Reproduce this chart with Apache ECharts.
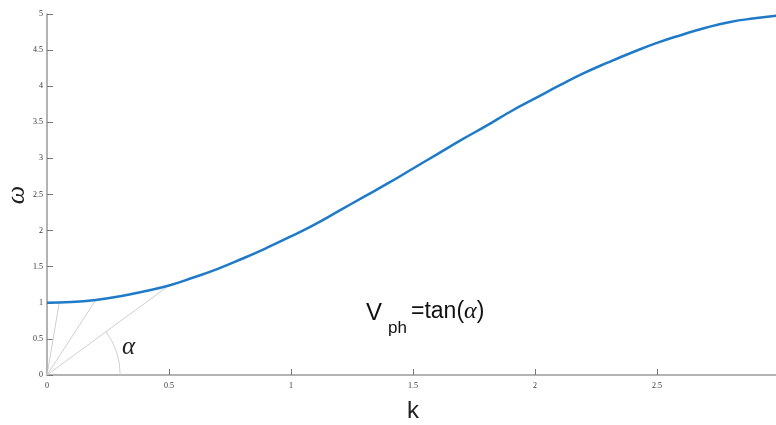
<!DOCTYPE html>
<html>
<head>
<meta charset="utf-8">
<script src="https://cdn.jsdelivr.net/npm/echarts@6/dist/echarts.min.js"></script>
<style>
  html, body { margin: 0; padding: 0; background: #fff; }
  #chart { width: 776px; height: 425px; }
</style>
</head>
<body>
<div id="chart"></div>
<script>
// Dispersion curve ω(k)
const kValues = [0, 0.1, 0.2, 0.3, 0.4, 0.5, 0.6, 0.7, 0.8, 0.9, 1.0, 1.1, 1.2, 1.3, 1.4, 1.5,
                 1.6, 1.7, 1.8, 1.9, 2.0, 2.1, 2.2, 2.3, 2.4, 2.5, 2.6, 2.7, 2.8, 2.9, 3.0];
const omegaValues = [1.00, 1.01, 1.04, 1.09, 1.16, 1.24, 1.35, 1.47, 1.61, 1.76, 1.92, 2.09, 2.28,
                     2.47, 2.66, 2.86, 3.06, 3.26, 3.45, 3.65, 3.83, 4.01, 4.18, 4.33, 4.47, 4.60,
                     4.71, 4.81, 4.89, 4.94, 4.98];
// Chord end points on the curve (from the origin)
const chordEnds = [[0.05, 1.0], [0.2, 1.04], [0.5, 1.24]];
// Angle arc radius (in k units) for the last chord
const arcRadiusK = 0.3;

const chart = echarts.init(document.getElementById('chart'));
const tickFont = { fontFamily: 'Liberation Serif', fontSize: 8, color: '#333' };
const axisGray = '#9a9a9a';
const textColor = '#111';

const chordSeries = chordEnds.map(p => ({
  type: 'line',
  data: [[0, 0], p],
  symbol: 'none',
  silent: true,
  lineStyle: { color: '#cfcfcf', width: 1 },
  z: 1
}));

chart.setOption({
  animation: false,
  grid: { left: 47, top: 14, width: 732, height: 361, outerBoundsMode: 'none', containLabel: false },
  xAxis: {
    type: 'value', min: 0, max: 3, interval: 0.5,
    name: 'k', nameLocation: 'middle', nameGap: 24,
    nameTextStyle: { fontFamily: 'Liberation Sans', fontSize: 24, color: '#222' },
    axisLine: { lineStyle: { color: axisGray, width: 1.5 } },
    axisTick: { inside: true, length: 6, lineStyle: { color: '#777' } },
    axisLabel: Object.assign({ margin: 7, showMaxLabel: false }, tickFont),
    splitLine: { show: false }
  },
  yAxis: {
    type: 'value', min: 0, max: 5, interval: 0.5,
    axisLine: { show: true, lineStyle: { color: axisGray, width: 1.5 } },
    axisTick: { show: true, inside: true, length: 6, lineStyle: { color: '#777' } },
    axisLabel: Object.assign({ margin: 4 }, tickFont),
    splitLine: { show: false }
  },
  series: [
    ...chordSeries,
    {
      type: 'custom',
      silent: true,
      data: [[0, 0]],
      z: 1,
      renderItem: function (params, api) {
        const c = api.coord([0, 0]);
        const e = api.coord([arcRadiusK, 0]);
        const t = api.coord(chordEnds[2]);
        const ang = Math.atan2(c[1] - t[1], t[0] - c[0]);
        return {
          type: 'arc',
          shape: { cx: c[0], cy: c[1], r: e[0] - c[0], startAngle: -ang, endAngle: 0 },
          style: { fill: null, stroke: '#cfcfcf', lineWidth: 1 }
        };
      }
    },
    {
      type: 'line',
      data: kValues.map((k, i) => [k, omegaValues[i]]),
      smooth: true,
      symbol: 'none',
      lineStyle: { color: '#1f7bc8', width: 2.5 },
      z: 3
    }
  ],
  graphic: [
    {
      // y-axis title
      type: 'text', x: 17, y: 195, rotation: Math.PI / 2,
      style: {
        text: 'ω', font: 'italic 26px "Liberation Serif"', fill: '#222',
        align: 'center', verticalAlign: 'middle'
      }
    },
    {
      type: 'text', left: 122, top: 335,
      style: { text: 'α', font: 'italic 25px "Liberation Serif"', fill: '#222' }
    },
    {
      type: 'text', left: 366, top: 301,
      style: { text: 'V', font: '24px "Liberation Sans"', fill: textColor }
    },
    {
      type: 'text', left: 388, top: 320,
      style: { text: 'ph', font: '17px "Liberation Sans"', fill: textColor }
    },
    {
      type: 'text', left: 411, top: 300,
      style: {
        text: '=tan({a|α})',
        font: '23px "Liberation Sans"',
        fill: textColor,
        rich: {
          a: { fontFamily: 'Liberation Serif', fontStyle: 'italic', fontSize: 24, fill: textColor }
        }
      }
    }
  ]
});
</script>
</body>
</html>
